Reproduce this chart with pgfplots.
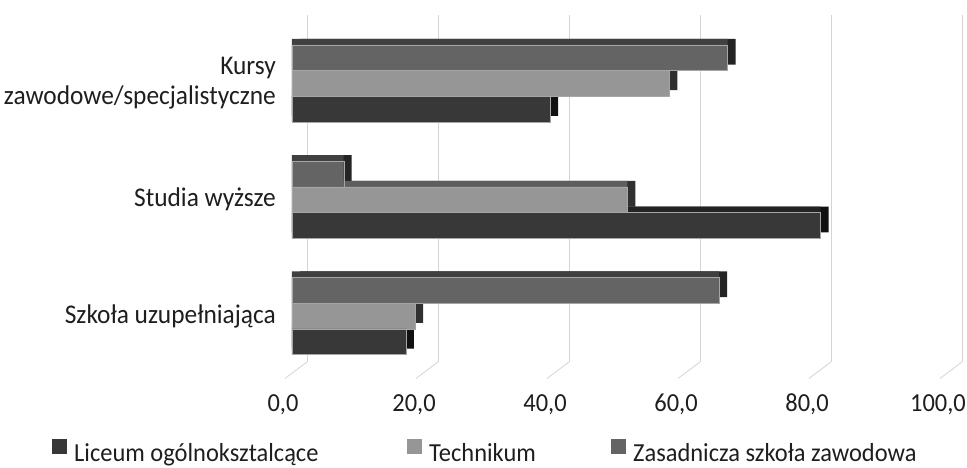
\documentclass[border=0pt]{standalone}
\usepackage{pgfplots}
\pgfplotsset{compat=1.18}
\usepackage{pgfplotstable}
\usepackage{fontspec}
\setmainfont{Carlito}[FakeStretch=0.94]
\definecolor{txt}{HTML}{1E1E1E}
\definecolor{grid}{HTML}{D4D4D4}
\definecolor{licF}{HTML}{383838}
\definecolor{licT}{HTML}{222222}
\definecolor{licS}{HTML}{111111}
\definecolor{tecF}{HTML}{969696}
\definecolor{tecT}{HTML}{5E5E5E}
\definecolor{tecS}{HTML}{303030}
\definecolor{zasF}{HTML}{646464}
\definecolor{zasT}{HTML}{404040}
\definecolor{zasS}{HTML}{242424}
\pgfplotstableread{
y lic tech zas
0 17.4 18.8 65.2
1 80.7 51.2 7.9
2 39.4 57.6 66.5
}\data
\begin{document}
\begin{tikzpicture}
\useasboundingbox (0,0) rectangle (967pt,468pt);
\begin{axis}[
  at={(292pt,106pt)}, anchor=south west,
  scale only axis, width=655pt, height=347pt,
  xmin=0, xmax=100, ymin=-0.395, ymax=2.588,
  clip=false,
  axis line style={draw=none},
  major tick length=0pt,
  xtick={0,20,...,100},
  ytick={0,1,2},
  yticklabels={Szkoła uzupełniająca, Studia wyższe, Kursy\\zawodowe/specjalistyczne},
  xmajorgrids,
  major grid style={draw=grid, line width=0.8pt, xshift=15pt},
  /pgf/number format/assume math mode=true,
  xticklabel={\pgfmathprintnumber[fixed,fixed zerofill,precision=1,use comma]{\tick}},
  xticklabel style={anchor=base, inner sep=0pt, xshift=-9pt, yshift=-50pt, font=\fontsize{26}{30}\selectfont, text=txt},
  yticklabel style={anchor=east, align=right, inner sep=0pt, xshift=-16pt, font=\fontsize{27}{30}\selectfont, text=txt},
  bar width=25.7pt,
  legend columns=3,
  legend style={at={(axis description cs:-0.3664,-0.2565)}, anchor=west, draw=none, fill=none, inner sep=0pt,
    font=\fontsize{26}{30}\selectfont, text=txt,
    nodes={inner sep=0pt},
    /tikz/every odd column/.append style={column sep=7pt},
    /tikz/every even column/.append style={column sep=0pt}},
  legend image code/.code={\fill[#1, draw=none] (0pt,-0.5pt) rectangle (15pt,14.5pt);},
]
\pgfplotsinvokeforeach{0,20,...,100}{
  \draw[grid, line width=0.8pt] ([xshift=15pt]axis cs:#1,-0.395) -- ([xshift=-7pt,yshift=-16.5pt]axis cs:#1,-0.395);
}
% depth faces (side, then top)
\addplot[xbar, forget plot, draw=none, fill=zasS, bar shift=25.7pt, xshift=8pt, yshift=6pt] table[x=zas,y=y]{\data};
\addplot[xbar, forget plot, draw=none, fill=zasT, bar shift=25.7pt, yshift=6pt] table[x=zas,y=y]{\data};
\addplot[xbar, forget plot, draw=none, fill=tecS, bar shift=0pt, xshift=8pt, yshift=6pt] table[x=tech,y=y]{\data};
\addplot[xbar, forget plot, draw=none, fill=tecT, bar shift=0pt, yshift=6pt] table[x=tech,y=y]{\data};
\addplot[xbar, forget plot, draw=none, fill=licS, bar shift=-25.7pt, xshift=8pt, yshift=6pt] table[x=lic,y=y]{\data};
\addplot[xbar, forget plot, draw=none, fill=licT, bar shift=-25.7pt, yshift=6pt] table[x=lic,y=y]{\data};
% front faces
\addplot[xbar, forget plot, fill=zasF, draw=gray!70, line width=0.4pt, bar shift=25.7pt] table[x=zas,y=y]{\data};
\addplot[xbar, forget plot, fill=tecF, draw=gray!70, line width=0.4pt, bar shift=0pt] table[x=tech,y=y]{\data};
\addplot[xbar, forget plot, fill=licF, draw=gray!70, line width=0.4pt, bar shift=-25.7pt] table[x=lic,y=y]{\data};
\addlegendimage{fill=licF, draw=none}
\addlegendentry{\makebox[333pt][l]{Liceum ogólnoksztalcące}}
\addlegendimage{fill=tecF, draw=none}
\addlegendentry{\makebox[182pt][l]{Technikum}}
\addlegendimage{fill=zasF, draw=none}
\addlegendentry{Zasadnicza szkoła zawodowa}
\end{axis}
\end{tikzpicture}
\end{document}
